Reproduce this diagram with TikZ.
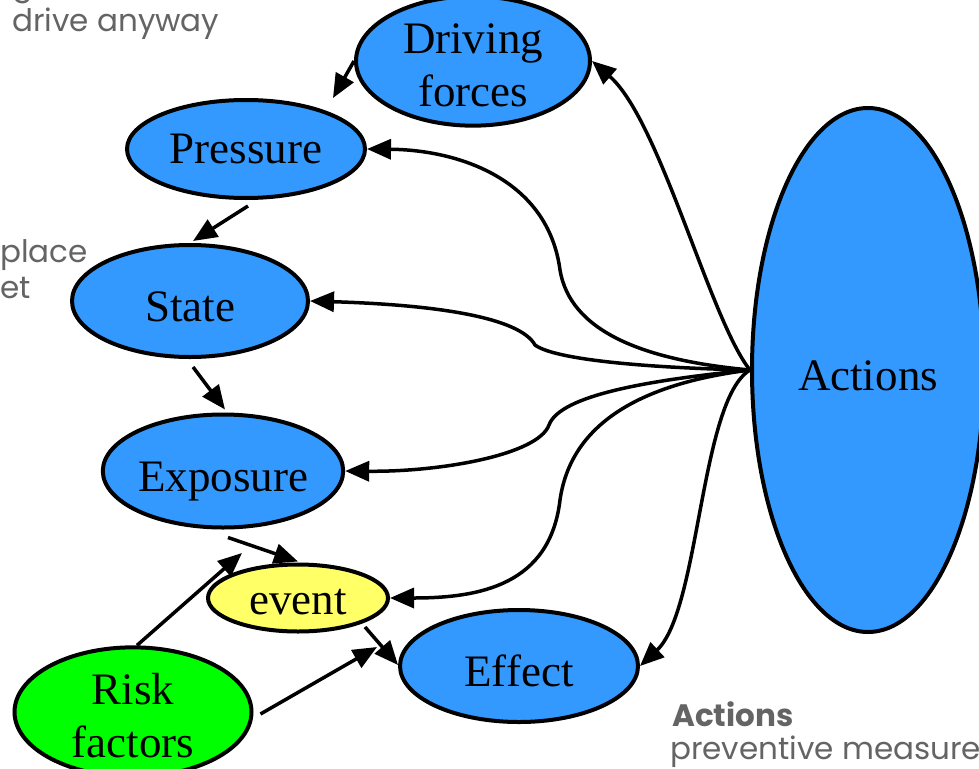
\documentclass[tikz,border=0pt]{standalone}
\usepackage{fontspec}
\setmainfont{Liberation Serif}
\newfontfamily\gothic{Poppins}
\usetikzlibrary{shapes.geometric,arrows.meta,calc}
\definecolor{nblue}{RGB}{51,153,255}
\definecolor{ngreen}{RGB}{0,255,0}
\definecolor{nyellow}{RGB}{255,255,102}
\definecolor{ngray}{RGB}{100,100,100}
\begin{document}
\begin{tikzpicture}[x=1pt,y=-1pt,
  bub/.style={ellipse,draw=black,line width=4pt,inner sep=0pt,align=center,
    font=\fontsize{45}{53}\selectfont},
  lowtext/.style={text height=40pt,text depth=0pt},
  arr/.style={-{Triangle[length=24pt,width=20pt]},line width=3.5pt},
  note/.style={anchor=base west,inner sep=0pt,text=ngray,font=\gothic\fontsize{31}{36}\selectfont}]
\useasboundingbox (0,0) rectangle (979,768);
% nodes
\node[bub,fill=nblue,minimum width=234,minimum height=115] (df) at (473,61) {\rule{0pt}{38pt}Driving\\forces};
\node[bub,fill=nblue,minimum width=238,minimum height=98] (pr) at (246,149) {Pressure};
\node[bub,fill=nblue,minimum width=236,minimum height=112,lowtext] (st) at (190,301) {State};
\node[bub,fill=nblue,minimum width=237,minimum height=113,lowtext] (ex) at (223,471) {Exposure};
\node[bub,fill=nyellow,minimum width=180,minimum height=67,text height=32pt,text depth=0pt] (ev) at (298,598) {event};
\node[bub,fill=nblue,minimum width=238,minimum height=112,lowtext] (ef) at (519,666) {Effect};
\node[bub,fill=ngreen,minimum width=237,minimum height=114] (rf) at (133,712) {\rule{0pt}{38pt}Risk\\factors};
\node[bub,fill=nblue,minimum width=232,minimum height=524,lowtext] (act) at (868,370) {Actions};
% chain
\draw[arr] (df.west) -- ($(pr)+(87,-51)$);
\draw[arr] ($(pr.south)+(2,6)$) -- ($(st.north)+(3,-2)$);
\draw[arr] ($(st.south)+(3,8)$) -- ($(ex.north)+(2,-3)$);
\draw[arr] ($(ex.south)+(5,8)$) -- ($(ev.north)+(0,-1)$);
\draw[arr] ($(rf.north)+(4,0)$) -- ($(ev)+(-56,-45)$);
\draw[arr] ($(ev)+(67,29)$) -- ($(ef.west)+(0,-1)$);
\draw[arr] ($(rf.east)+(7,2)$) -- ($(ef)+(-142,-19)$);
% fan from actions
\draw[arr] (act.west) .. controls (710,320) and (660,120) .. (df.east);
\draw[arr] (act.west) .. controls (640,360) and (570,330) .. (560,270)
  .. controls (548,180) and (460,150) .. (pr.east);
\draw[arr] (act.west) .. controls (650,368) and (555,360) .. (535,345)
  .. controls (520,318) and (440,305) .. (st.east);
\draw[arr] (act.west) .. controls (650,380) and (560,395) .. (549,425)
  .. controls (538,455) and (440,472) .. (ex.east);
\draw[arr] (act.west) .. controls (630,385) and (570,430) .. (560,500)
  .. controls (550,585) and (480,598) .. (ev.east);
\draw[arr] (act.west) .. controls (700,400) and (700,610) .. (ef.east);
% notes
\node[note] (n0) at (12,-4) {g};
\node[note] (n1) at (12,32) {drive anyway};
\node[note] (n2) at (0,262) {place};
\node[note] (n3) at (0,298) {et};
\node[note] (n4) at (672,726) {\bfseries Actions};
\node[note] (n5) at (670,759) {preventive measure};
\end{tikzpicture}
\end{document}
